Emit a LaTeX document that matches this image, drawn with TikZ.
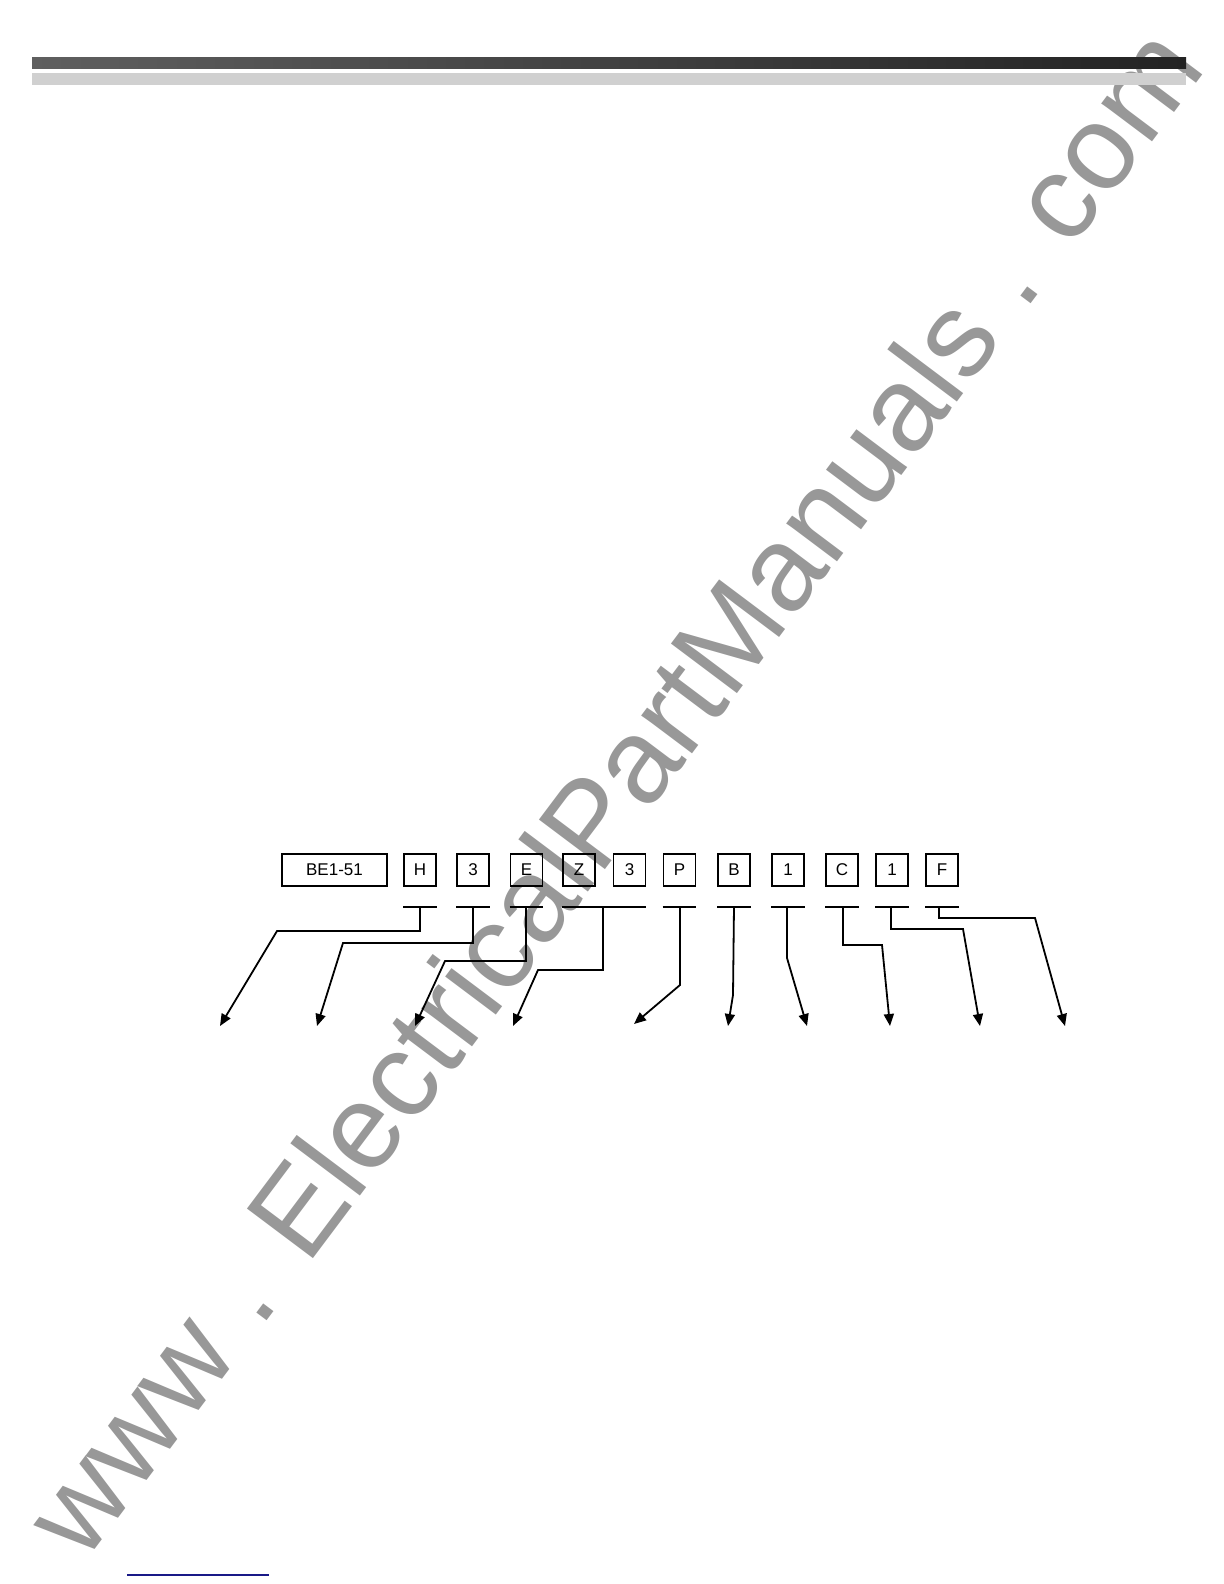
\documentclass[tikz,border=0pt]{standalone}
\usepackage{fontspec}
\setmainfont{Liberation Sans}
\newfontfamily\wmfont{Liberation Sans}
\usetikzlibrary{arrows.meta}
\definecolor{wmgray}{RGB}{152,152,152}
\definecolor{navyline}{RGB}{25,25,135}
\definecolor{banddarkL}{RGB}{95,95,95}
\definecolor{banddarkR}{RGB}{35,35,35}
\definecolor{bandlight}{RGB}{208,208,208}
\begin{document}
\begin{tikzpicture}[x=0.5pt,y=-0.5pt,
  codebox/.style={draw=black,line width=0.8pt,inner sep=0pt,minimum width=16pt,minimum height=16pt,font=\fontsize{8.5}{10}\selectfont},
  barline/.style={line width=0.9pt},
  lead/.style={line width=0.9pt,-{Triangle[length=6pt,width=5pt]}},
  wmtext/.style={text=wmgray,inner sep=0pt,anchor=base,rotate=53.1,font=\wmfont\fontsize{60}{72}\selectfont}]
\useasboundingbox (0,0) rectangle (1224,1584);
% watermark
\node[wmtext] (wmk) at (646,816) {www . ElectricalPartManuals . com};
% header bands
\shade[left color=banddarkL,right color=banddarkR] (32,58) rectangle (1186,69);
\fill[bandlight] (32,73) rectangle (1186,85);
% code boxes
\node[codebox,minimum width=52.5pt] (be) at (334.5,870) {BE1-51};
\node[codebox] (h)  at (420,870)   {H};
\node[codebox] (ta) at (473,870)   {3};
\node[codebox] (e)  at (526.5,870) {E};
\node[codebox] (z)  at (579,870)   {Z};
\node[codebox] (tb) at (629.5,870) {3};
\node[codebox] (p)  at (679.5,870) {P};
\node[codebox] (b)  at (734,870)   {B};
\node[codebox] (oa) at (788,870)   {1};
\node[codebox] (c)  at (842,870)   {C};
\node[codebox] (ob) at (892,870)   {1};
\node[codebox] (f)  at (942,870)   {F};
% bars under boxes
\foreach \n in {h,ta,e,p,b,oa,c,ob,f}
  \draw[barline] ([yshift=-10pt]\n.south west) -- ([yshift=-10pt]\n.south east);
\draw[barline] ([yshift=-10pt]z.south west) -- ([yshift=-10pt]tb.south east);
% stem start points on bars
\coordinate (hs)  at (420,906);
\coordinate (tas) at (473,906);
\coordinate (es)  at (526,906);
\coordinate (zs)  at (603,906);
\coordinate (ps)  at (680,906);
\coordinate (bs)  at (734,906);
\coordinate (oas) at (787,906);
\coordinate (cs)  at (843,906);
\coordinate (obs) at (891,906);
\coordinate (fs)  at (939,906);
% bend points
\coordinate (hk)  at (277,931);
\coordinate (tak) at (343,943);
\coordinate (ek)  at (445,961);
\coordinate (zk)  at (538,970);
\coordinate (pk)  at (680,985);
\coordinate (bk)  at (733,995);
\coordinate (oak) at (787,958);
\coordinate (ck)  at (882,945);
\coordinate (obk) at (963,929);
\coordinate (fk)  at (1035,918);
% arrow tips
\coordinate (ht)  at (220,1026);
\coordinate (tat) at (317,1026);
\coordinate (et)  at (415,1026);
\coordinate (zt)  at (513,1026);
\coordinate (pt)  at (634,1024);
\coordinate (bt)  at (728,1026);
\coordinate (oat) at (807,1026);
\coordinate (ct)  at (890,1026);
\coordinate (obt) at (980,1026);
\coordinate (ft)  at (1065,1026);
% leaders
\draw[lead] (hs) |- (hk) -- (ht);
\draw[lead] (tas) |- (tak) -- (tat);
\draw[lead] (es) |- (ek) -- (et);
\draw[lead] (zs) |- (zk) -- (zt);
\draw[lead] (ps) -- (pk) -- (pt);
\draw[lead] (bs) -- (bk) -- (bt);
\draw[lead] (oas) -- (oak) -- (oat);
\draw[lead] (cs) |- (ck) -- (ct);
\draw[lead] (obs) |- (obk) -- (obt);
\draw[lead] (fs) |- (fk) -- (ft);
% footer line
\coordinate (fl1) at (127,1575);
\coordinate (fl2) at (269,1575);
\draw[navyline,line width=1pt] (fl1) -- (fl2);
\end{tikzpicture}
\end{document}
